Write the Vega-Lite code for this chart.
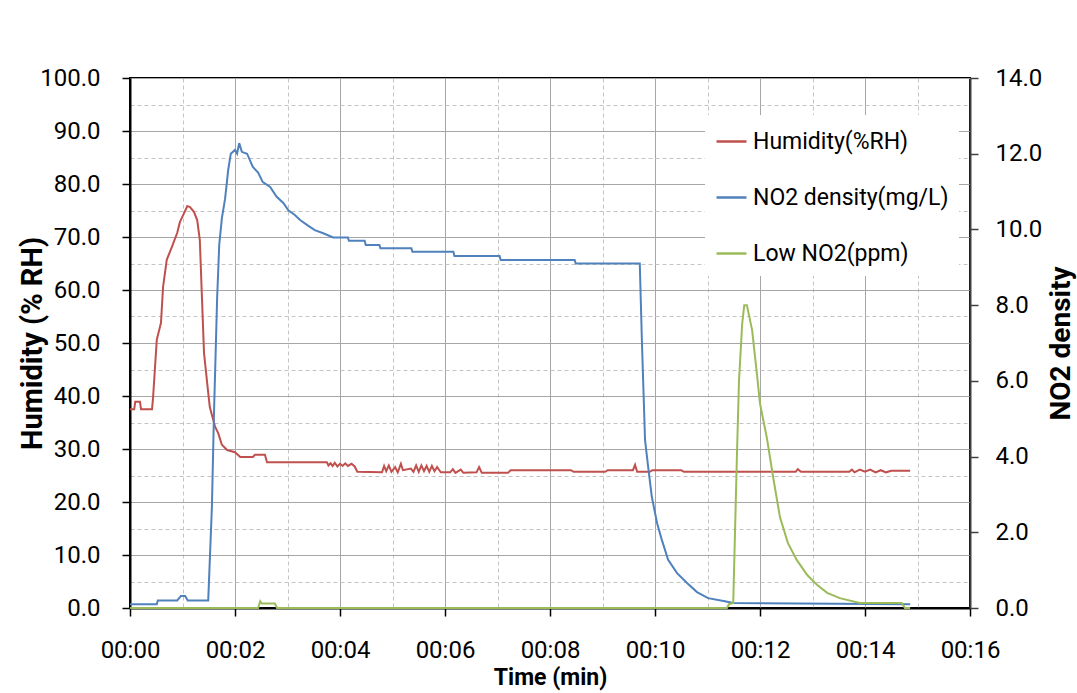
{
  "$schema": "https://vega.github.io/schema/vega-lite/v6.json",
  "width": 840,
  "height": 530,
  "autosize": {"type": "none"},
  "padding": {"left": 130, "top": 78, "right": 107, "bottom": 85},
  "background": "white",
  "config": {
    "font": "Roboto",
    "view": {"stroke": "#000", "strokeWidth": 2},
    "axis": {
      "labelFont": "Roboto",
      "labelFontSize": 24,
      "labelColor": "#000",
      "titleFont": "Roboto",
      "titleFontSize": 23,
      "titleFontWeight": "bold",
      "titleColor": "#000",
      "tickColor": "#000",
      "tickWidth": 1.5,
      "tickSize": 8,
      "domainColor": "#000",
      "domainWidth": 2
    },
    "legend": {"labelFont": "Roboto"}
  },
  "datasets": {
    "hum": [
      {"t": 0, "s": "Humidity(%RH)", "v": 37.5}, {"t": 0.08, "s": "Humidity(%RH)", "v": 37.5}, {"t": 0.1, "s": "Humidity(%RH)", "v": 38.9}, {"t": 0.19, "s": "Humidity(%RH)", "v": 38.9}, {"t": 0.21, "s": "Humidity(%RH)", "v": 37.5}, {"t": 0.42, "s": "Humidity(%RH)", "v": 37.5}, {"t": 0.44, "s": "Humidity(%RH)", "v": 39.8}, {"t": 0.51, "s": "Humidity(%RH)", "v": 50.6}, {"t": 0.59, "s": "Humidity(%RH)", "v": 53.8}, {"t": 0.63, "s": "Humidity(%RH)", "v": 60.6}, {"t": 0.7, "s": "Humidity(%RH)", "v": 65.7}, {"t": 0.8, "s": "Humidity(%RH)", "v": 68.2}, {"t": 0.9, "s": "Humidity(%RH)", "v": 70.8}, {"t": 0.95, "s": "Humidity(%RH)", "v": 72.8}, {"t": 1.03, "s": "Humidity(%RH)", "v": 74.5}, {"t": 1.09, "s": "Humidity(%RH)", "v": 75.8}, {"t": 1.14, "s": "Humidity(%RH)", "v": 75.7}, {"t": 1.22, "s": "Humidity(%RH)", "v": 74.7}, {"t": 1.28, "s": "Humidity(%RH)", "v": 73.2}, {"t": 1.33, "s": "Humidity(%RH)", "v": 69.4}, {"t": 1.37, "s": "Humidity(%RH)", "v": 58.7}, {"t": 1.41, "s": "Humidity(%RH)", "v": 48.1}, {"t": 1.49, "s": "Humidity(%RH)", "v": 40.6}, {"t": 1.52, "s": "Humidity(%RH)", "v": 37.9}, {"t": 1.62, "s": "Humidity(%RH)", "v": 34.2}, {"t": 1.68, "s": "Humidity(%RH)", "v": 33.0}, {"t": 1.75, "s": "Humidity(%RH)", "v": 30.8}, {"t": 1.85, "s": "Humidity(%RH)", "v": 29.8}, {"t": 2.0, "s": "Humidity(%RH)", "v": 29.4}, {"t": 2.1, "s": "Humidity(%RH)", "v": 28.5}, {"t": 2.34, "s": "Humidity(%RH)", "v": 28.5}, {"t": 2.38, "s": "Humidity(%RH)", "v": 28.9}, {"t": 2.57, "s": "Humidity(%RH)", "v": 28.9}, {"t": 2.61, "s": "Humidity(%RH)", "v": 27.5}, {"t": 3.75, "s": "Humidity(%RH)", "v": 27.5}, {"t": 3.78, "s": "Humidity(%RH)", "v": 26.9}, {"t": 3.82, "s": "Humidity(%RH)", "v": 27.3}, {"t": 3.86, "s": "Humidity(%RH)", "v": 26.8}, {"t": 3.9, "s": "Humidity(%RH)", "v": 27.4}, {"t": 3.95, "s": "Humidity(%RH)", "v": 26.7}, {"t": 4.0, "s": "Humidity(%RH)", "v": 27.2}, {"t": 4.05, "s": "Humidity(%RH)", "v": 26.8}, {"t": 4.1, "s": "Humidity(%RH)", "v": 27.3}, {"t": 4.15, "s": "Humidity(%RH)", "v": 26.8}, {"t": 4.22, "s": "Humidity(%RH)", "v": 27.2}, {"t": 4.28, "s": "Humidity(%RH)", "v": 26.7}, {"t": 4.33, "s": "Humidity(%RH)", "v": 25.7}, {"t": 4.8, "s": "Humidity(%RH)", "v": 25.6}, {"t": 4.84, "s": "Humidity(%RH)", "v": 26.8}, {"t": 4.88, "s": "Humidity(%RH)", "v": 25.8}, {"t": 4.93, "s": "Humidity(%RH)", "v": 26.9}, {"t": 4.98, "s": "Humidity(%RH)", "v": 25.7}, {"t": 5.05, "s": "Humidity(%RH)", "v": 26.6}, {"t": 5.1, "s": "Humidity(%RH)", "v": 25.6}, {"t": 5.16, "s": "Humidity(%RH)", "v": 27.2}, {"t": 5.2, "s": "Humidity(%RH)", "v": 26.0}, {"t": 5.35, "s": "Humidity(%RH)", "v": 26.3}, {"t": 5.4, "s": "Humidity(%RH)", "v": 25.7}, {"t": 5.45, "s": "Humidity(%RH)", "v": 26.9}, {"t": 5.5, "s": "Humidity(%RH)", "v": 25.7}, {"t": 5.55, "s": "Humidity(%RH)", "v": 26.9}, {"t": 5.6, "s": "Humidity(%RH)", "v": 25.8}, {"t": 5.65, "s": "Humidity(%RH)", "v": 26.8}, {"t": 5.7, "s": "Humidity(%RH)", "v": 25.7}, {"t": 5.75, "s": "Humidity(%RH)", "v": 26.8}, {"t": 5.8, "s": "Humidity(%RH)", "v": 25.8}, {"t": 5.85, "s": "Humidity(%RH)", "v": 26.6}, {"t": 5.92, "s": "Humidity(%RH)", "v": 25.6}, {"t": 6.1, "s": "Humidity(%RH)", "v": 25.6}, {"t": 6.15, "s": "Humidity(%RH)", "v": 26.2}, {"t": 6.2, "s": "Humidity(%RH)", "v": 25.5}, {"t": 6.3, "s": "Humidity(%RH)", "v": 26.1}, {"t": 6.35, "s": "Humidity(%RH)", "v": 25.5}, {"t": 6.6, "s": "Humidity(%RH)", "v": 25.6}, {"t": 6.65, "s": "Humidity(%RH)", "v": 26.6}, {"t": 6.7, "s": "Humidity(%RH)", "v": 25.5}, {"t": 7.2, "s": "Humidity(%RH)", "v": 25.5}, {"t": 7.25, "s": "Humidity(%RH)", "v": 26.0}, {"t": 8.4, "s": "Humidity(%RH)", "v": 26.0}, {"t": 8.45, "s": "Humidity(%RH)", "v": 25.7}, {"t": 9.05, "s": "Humidity(%RH)", "v": 25.7}, {"t": 9.1, "s": "Humidity(%RH)", "v": 26.0}, {"t": 9.58, "s": "Humidity(%RH)", "v": 26.0}, {"t": 9.62, "s": "Humidity(%RH)", "v": 27.0}, {"t": 9.66, "s": "Humidity(%RH)", "v": 25.7}, {"t": 9.9, "s": "Humidity(%RH)", "v": 25.7}, {"t": 9.95, "s": "Humidity(%RH)", "v": 26.0}, {"t": 10.5, "s": "Humidity(%RH)", "v": 26.0}, {"t": 10.55, "s": "Humidity(%RH)", "v": 25.7}, {"t": 12.68, "s": "Humidity(%RH)", "v": 25.7}, {"t": 12.72, "s": "Humidity(%RH)", "v": 26.2}, {"t": 12.78, "s": "Humidity(%RH)", "v": 25.7}, {"t": 13.7, "s": "Humidity(%RH)", "v": 25.7}, {"t": 13.75, "s": "Humidity(%RH)", "v": 26.1}, {"t": 13.8, "s": "Humidity(%RH)", "v": 25.6}, {"t": 13.9, "s": "Humidity(%RH)", "v": 26.1}, {"t": 14.0, "s": "Humidity(%RH)", "v": 25.7}, {"t": 14.1, "s": "Humidity(%RH)", "v": 26.1}, {"t": 14.2, "s": "Humidity(%RH)", "v": 25.6}, {"t": 14.3, "s": "Humidity(%RH)", "v": 26.0}, {"t": 14.4, "s": "Humidity(%RH)", "v": 25.6}, {"t": 14.5, "s": "Humidity(%RH)", "v": 25.9}, {"t": 14.86, "s": "Humidity(%RH)", "v": 25.9}
    ],
    "no2": [
      {"t": 0, "s": "NO2 density(mg/L)", "v": 0.1}, {"t": 0.51, "s": "NO2 density(mg/L)", "v": 0.1}, {"t": 0.53, "s": "NO2 density(mg/L)", "v": 0.2}, {"t": 0.9, "s": "NO2 density(mg/L)", "v": 0.2}, {"t": 0.97, "s": "NO2 density(mg/L)", "v": 0.32}, {"t": 1.05, "s": "NO2 density(mg/L)", "v": 0.32}, {"t": 1.1, "s": "NO2 density(mg/L)", "v": 0.2}, {"t": 1.49, "s": "NO2 density(mg/L)", "v": 0.2}, {"t": 1.56, "s": "NO2 density(mg/L)", "v": 2.67}, {"t": 1.6, "s": "NO2 density(mg/L)", "v": 5.15}, {"t": 1.66, "s": "NO2 density(mg/L)", "v": 8.2}, {"t": 1.7, "s": "NO2 density(mg/L)", "v": 9.6}, {"t": 1.75, "s": "NO2 density(mg/L)", "v": 10.3}, {"t": 1.81, "s": "NO2 density(mg/L)", "v": 10.8}, {"t": 1.85, "s": "NO2 density(mg/L)", "v": 11.3}, {"t": 1.87, "s": "NO2 density(mg/L)", "v": 11.57}, {"t": 1.92, "s": "NO2 density(mg/L)", "v": 12.0}, {"t": 2.0, "s": "NO2 density(mg/L)", "v": 12.1}, {"t": 2.04, "s": "NO2 density(mg/L)", "v": 12.0}, {"t": 2.08, "s": "NO2 density(mg/L)", "v": 12.28}, {"t": 2.13, "s": "NO2 density(mg/L)", "v": 12.05}, {"t": 2.23, "s": "NO2 density(mg/L)", "v": 12.0}, {"t": 2.34, "s": "NO2 density(mg/L)", "v": 11.65}, {"t": 2.44, "s": "NO2 density(mg/L)", "v": 11.5}, {"t": 2.53, "s": "NO2 density(mg/L)", "v": 11.25}, {"t": 2.67, "s": "NO2 density(mg/L)", "v": 11.12}, {"t": 2.79, "s": "NO2 density(mg/L)", "v": 10.87}, {"t": 2.92, "s": "NO2 density(mg/L)", "v": 10.7}, {"t": 3.02, "s": "NO2 density(mg/L)", "v": 10.5}, {"t": 3.14, "s": "NO2 density(mg/L)", "v": 10.38}, {"t": 3.24, "s": "NO2 density(mg/L)", "v": 10.25}, {"t": 3.37, "s": "NO2 density(mg/L)", "v": 10.12}, {"t": 3.52, "s": "NO2 density(mg/L)", "v": 9.98}, {"t": 3.68, "s": "NO2 density(mg/L)", "v": 9.9}, {"t": 3.87, "s": "NO2 density(mg/L)", "v": 9.79}, {"t": 4.15, "s": "NO2 density(mg/L)", "v": 9.79}, {"t": 4.17, "s": "NO2 density(mg/L)", "v": 9.7}, {"t": 4.47, "s": "NO2 density(mg/L)", "v": 9.7}, {"t": 4.49, "s": "NO2 density(mg/L)", "v": 9.59}, {"t": 4.75, "s": "NO2 density(mg/L)", "v": 9.59}, {"t": 4.77, "s": "NO2 density(mg/L)", "v": 9.5}, {"t": 5.36, "s": "NO2 density(mg/L)", "v": 9.5}, {"t": 5.38, "s": "NO2 density(mg/L)", "v": 9.41}, {"t": 6.16, "s": "NO2 density(mg/L)", "v": 9.41}, {"t": 6.18, "s": "NO2 density(mg/L)", "v": 9.3}, {"t": 7.04, "s": "NO2 density(mg/L)", "v": 9.3}, {"t": 7.06, "s": "NO2 density(mg/L)", "v": 9.19}, {"t": 8.47, "s": "NO2 density(mg/L)", "v": 9.19}, {"t": 8.49, "s": "NO2 density(mg/L)", "v": 9.1}, {"t": 9.71, "s": "NO2 density(mg/L)", "v": 9.1}, {"t": 9.75, "s": "NO2 density(mg/L)", "v": 7.08}, {"t": 9.81, "s": "NO2 density(mg/L)", "v": 4.44}, {"t": 9.87, "s": "NO2 density(mg/L)", "v": 3.72}, {"t": 9.94, "s": "NO2 density(mg/L)", "v": 2.93}, {"t": 10.04, "s": "NO2 density(mg/L)", "v": 2.24}, {"t": 10.13, "s": "NO2 density(mg/L)", "v": 1.8}, {"t": 10.25, "s": "NO2 density(mg/L)", "v": 1.27}, {"t": 10.42, "s": "NO2 density(mg/L)", "v": 0.92}, {"t": 10.61, "s": "NO2 density(mg/L)", "v": 0.66}, {"t": 10.8, "s": "NO2 density(mg/L)", "v": 0.42}, {"t": 11.01, "s": "NO2 density(mg/L)", "v": 0.26}, {"t": 11.33, "s": "NO2 density(mg/L)", "v": 0.18}, {"t": 11.49, "s": "NO2 density(mg/L)", "v": 0.13}, {"t": 14.86, "s": "NO2 density(mg/L)", "v": 0.1}
    ],
    "low": [
      {"t": 0, "s": "Low NO2(ppm)", "v": 0}, {"t": 2.44, "s": "Low NO2(ppm)", "v": 0}, {"t": 2.48, "s": "Low NO2(ppm)", "v": 0.18}, {"t": 2.51, "s": "Low NO2(ppm)", "v": 0.12}, {"t": 2.76, "s": "Low NO2(ppm)", "v": 0.12}, {"t": 2.8, "s": "Low NO2(ppm)", "v": 0}, {"t": 11.37, "s": "Low NO2(ppm)", "v": 0}, {"t": 11.41, "s": "Low NO2(ppm)", "v": 0.1}, {"t": 11.49, "s": "Low NO2(ppm)", "v": 0.13}, {"t": 11.56, "s": "Low NO2(ppm)", "v": 4.0}, {"t": 11.6, "s": "Low NO2(ppm)", "v": 6.0}, {"t": 11.66, "s": "Low NO2(ppm)", "v": 7.5}, {"t": 11.7, "s": "Low NO2(ppm)", "v": 8.0}, {"t": 11.75, "s": "Low NO2(ppm)", "v": 8.0}, {"t": 11.85, "s": "Low NO2(ppm)", "v": 7.34}, {"t": 11.94, "s": "Low NO2(ppm)", "v": 6.2}, {"t": 12.0, "s": "Low NO2(ppm)", "v": 5.4}, {"t": 12.13, "s": "Low NO2(ppm)", "v": 4.5}, {"t": 12.25, "s": "Low NO2(ppm)", "v": 3.46}, {"t": 12.38, "s": "Low NO2(ppm)", "v": 2.4}, {"t": 12.53, "s": "Low NO2(ppm)", "v": 1.72}, {"t": 12.7, "s": "Low NO2(ppm)", "v": 1.27}, {"t": 12.9, "s": "Low NO2(ppm)", "v": 0.87}, {"t": 13.09, "s": "Low NO2(ppm)", "v": 0.61}, {"t": 13.28, "s": "Low NO2(ppm)", "v": 0.4}, {"t": 13.52, "s": "Low NO2(ppm)", "v": 0.26}, {"t": 13.9, "s": "Low NO2(ppm)", "v": 0.13}, {"t": 14.7, "s": "Low NO2(ppm)", "v": 0.13}, {"t": 14.76, "s": "Low NO2(ppm)", "v": 0}, {"t": 14.86, "s": "Low NO2(ppm)", "v": 0}
    ]
  },
  "encoding": {
    "x": {
      "field": "t",
      "type": "quantitative",
      "scale": {"domain": [0, 16], "nice": false, "zero": false},
      "axis": {
        "title": "Time (min)",
        "values": [0, 1, 2, 3, 4, 5, 6, 7, 8, 9, 10, 11, 12, 13, 14, 15, 16],
        "labelExpr": "datum.value % 2 === 0 ? '00:' + (datum.value < 10 ? '0' : '') + datum.value : ''",
        "labelPadding": 22,
        "labelFlush": false,
        "labelOverlap": false,
        "tickOpacity": {"condition": {"test": "datum.value % 2 === 0", "value": 1}, "value": 0},
        "grid": true,
        "gridColor": {"condition": {"test": "datum.value % 2 === 0", "value": "#a6a6a6"}, "value": "#c4c4c4"},
        "gridDash": {"condition": {"test": "datum.value % 2 === 0", "value": []}, "value": [4, 3]},
        "titlePadding": 4
      }
    },
    "color": {
      "field": "s",
      "type": "nominal",
      "scale": {
        "domain": ["Humidity(%RH)", "NO2 density(mg/L)", "Low NO2(ppm)"],
        "range": ["#C0504D", "#4F81BD", "#9BBB59"]
      },
      "legend": {
        "title": null,
        "orient": "none",
        "legendX": 575,
        "legendY": 37,
        "fillColor": "white",
        "padding": 10,
        "symbolType": "stroke",
        "symbolSize": 900,
        "symbolStrokeWidth": 2.5,
        "labelFontSize": 23,
        "labelLimit": 400,
        "labelColor": "#000",
        "labelOffset": 5,
        "rowPadding": 27
      }
    }
  },
  "layer": [
    {
      "data": {"name": "hum"},
      "mark": {"type": "line", "strokeWidth": 2},
      "encoding": {
        "y": {
          "field": "v",
          "type": "quantitative",
          "scale": {"domain": [0, 100], "nice": false},
          "axis": {
            "title": "Humidity (% RH)",
            "titleFontSize": 29,
            "values": [0, 5, 10, 15, 20, 25, 30, 35, 40, 45, 50, 55, 60, 65, 70, 75, 80, 85, 90, 95, 100],
            "labelExpr": "datum.value % 10 === 0 ? format(datum.value, '.1f') : ''",
            "labelPadding": 22,
            "labelFlush": false,
            "labelOverlap": false,
            "tickOpacity": {"condition": {"test": "datum.value % 10 === 0", "value": 1}, "value": 0},
            "grid": true,
            "gridColor": {"condition": {"test": "datum.value % 10 === 0", "value": "#a6a6a6"}, "value": "#c4c4c4"},
            "gridDash": {"condition": {"test": "datum.value % 10 === 0", "value": []}, "value": [4, 3]},
            "titlePadding": -8
          }
        }
      }
    },
    {
      "data": {"name": "no2"},
      "mark": {"type": "line", "strokeWidth": 2},
      "encoding": {
        "y": {
          "field": "v",
          "type": "quantitative",
          "scale": {"domain": [0, 14], "nice": false},
          "axis": {
            "orient": "right",
            "title": "NO2 density",
            "titleFontSize": 28,
            "titleAngle": -90,
            "values": [0, 2, 4, 6, 8, 10, 12, 14],
            "format": ".1f",
            "labelPadding": 17,
            "labelFlush": false,
            "grid": false,
            "domainColor": "#404040",
            "tickColor": "#404040",
            "titlePadding": 34
          }
        }
      }
    },
    {
      "data": {"name": "low"},
      "mark": {"type": "line", "strokeWidth": 2},
      "encoding": {
        "y": {
          "field": "v",
          "type": "quantitative",
          "scale": {"domain": [0, 14], "nice": false},
          "axis": null
        }
      }
    }
  ],
  "resolve": {"scale": {"y": "independent"}}
}
